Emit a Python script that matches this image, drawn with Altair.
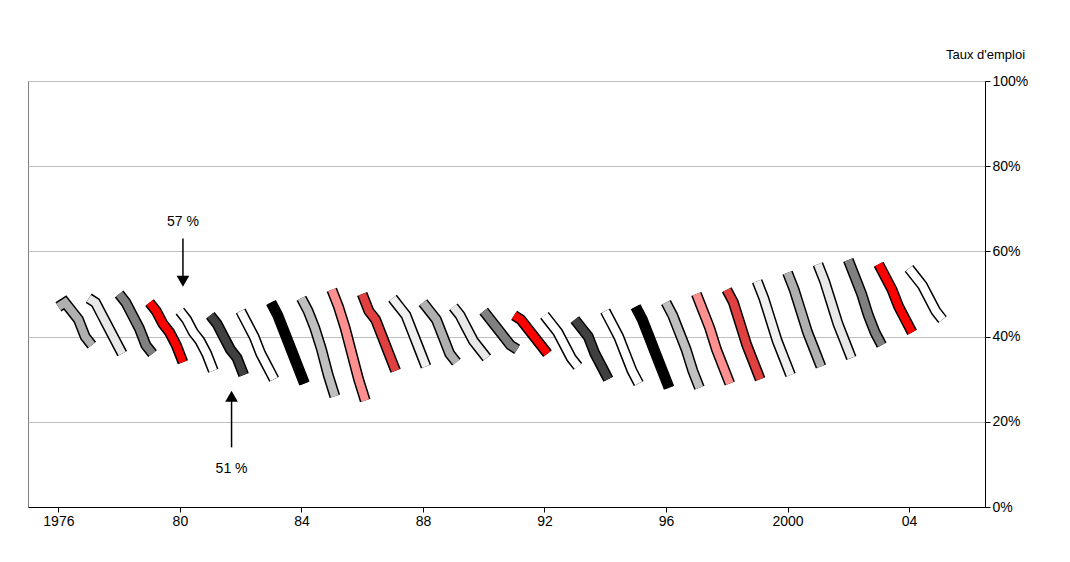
import altair as alt
import pandas as pd

years = list(range(1976, 2005))
# employment rate per year, read across the 6 depth categories (0..5)
rates = [
    [47, 48, 46, 44, 40, 38],
    [49, 48, 45, 42, 39, 36],
    [50, 48, 45, 42, 38, 36],
    [48, 46, 43, 41, 38, 34],
    [46, 44, 41, 39, 36, 32],
    [45, 43, 40, 37, 35, 31],
    [46, 43, 40, 36, 33, 30],
    [48, 45, 41, 37, 33, 29],
    [49, 46, 42, 37, 31, 26],
    [51, 47, 42, 36, 30, 25],
    [50, 46, 44, 40, 36, 32],
    [49, 47, 45, 41, 37, 33],
    [48, 46, 44, 40, 36, 34],
    [47, 45, 42, 39, 37, 35],
    [46, 44, 42, 40, 38, 37],
    [45, 44, 42, 40, 38, 36],
    [45, 43, 41, 38, 35, 33],
    [44, 42, 40, 36, 33, 30],
    [46, 43, 40, 36, 32, 29],
    [47, 44, 40, 36, 32, 28],
    [48, 45, 41, 37, 32, 28],
    [50, 46, 42, 37, 33, 29],
    [51, 48, 43, 38, 34, 30],
    [53, 49, 44, 39, 35, 31],
    [55, 51, 46, 41, 37, 33],
    [57, 53, 48, 43, 39, 35],
    [58, 54, 50, 45, 41, 38],
    [57, 54, 51, 47, 44, 41],
    [56, 54, 52, 49, 46, 44],
]
shades = ["#b0b0b0", "#e8e8e8", "#808080", "#ff0000", "#ffffff", "#404040",
          "#ffffff", "#000000", "#c0c0c0", "#ff9090", "#e04040", "#f0f0f0"]
depths = [0, 1, 2, 3, 4, 5]

rows = []
for i, (yr, vals) in enumerate(zip(years, rates)):
    for d, v in zip(depths, vals):
        rows.append({"year": yr, "x": yr + d * 0.22, "rate": v / 100,
                     "color": shades[i % len(shades)]})
df = pd.DataFrame(rows)

xs = alt.Scale(domain=[1975, 2006.5])
ys = alt.Scale(domain=[0, 1])
base = alt.Chart(df).encode(
    x=alt.X("x:Q", scale=xs, title=None,
            axis=alt.Axis(values=[1976, 1980, 1984, 1988, 1992, 1996, 2000, 2004],
                          labelExpr="datum.value == 1976 ? '1976' : datum.value == 2000 ? '2000' : substring(toString(datum.value), 2, 4)",
                          grid=False, labelFont="Arial", labelFontSize=14, labelColor="black",
                          domainColor="black", tickColor="black")),
    y=alt.Y("rate:Q", scale=ys, title="Taux d'emploi",
            axis=alt.Axis(orient="right", format="%", values=[0, .2, .4, .6, .8, 1],
                          gridColor="#c0c0c0", labelFont="Arial", labelFontSize=14,
                          labelColor="black", titleFont="Arial", titleFontSize=13,
                          titleFontWeight="normal", titleAngle=0, titleAlign="center",
                          titleY=-20, titleX=0, domainColor="black", tickColor="black")),
    detail="year:O",
)
outline = base.mark_line(strokeWidth=11, color="black", strokeCap="butt")
fill = base.mark_line(strokeWidth=8, strokeCap="butt").encode(
    color=alt.Color("color:N", scale=None))

ann = pd.DataFrame({"x": [1980.1, 1981.7], "y0": [0.63, 0.14], "y1": [0.53, 0.26],
                    "label": ["57 %", "51 %"], "ly": [0.67, 0.09],
                    "shape": ["triangle-down", "triangle-up"]})
arrows = alt.Chart(ann).mark_rule(color="black", strokeWidth=1.5).encode(
    x=alt.X("x:Q", scale=xs), y=alt.Y("y0:Q", scale=ys), y2="y1:Q")
heads = alt.Chart(ann).mark_point(filled=True, color="black", size=160, opacity=1).encode(
    x=alt.X("x:Q", scale=xs), y=alt.Y("y1:Q", scale=ys),
    shape=alt.Shape("shape:N", scale=None))
labels = alt.Chart(ann).mark_text(font="Arial", fontSize=14).encode(
    x=alt.X("x:Q", scale=xs), y=alt.Y("ly:Q", scale=ys), text="label:N")

chart = (outline + fill + arrows + heads + labels).properties(
    width=1040, height=530, autosize=alt.AutoSizeParams(type="fit", contains="padding"),
    padding={"left": 20, "right": 20, "top": 40, "bottom": 10},
).configure_view(stroke="#808080")

chart.save("out.html", embed_options={"renderer": "svg", "actions": False})
